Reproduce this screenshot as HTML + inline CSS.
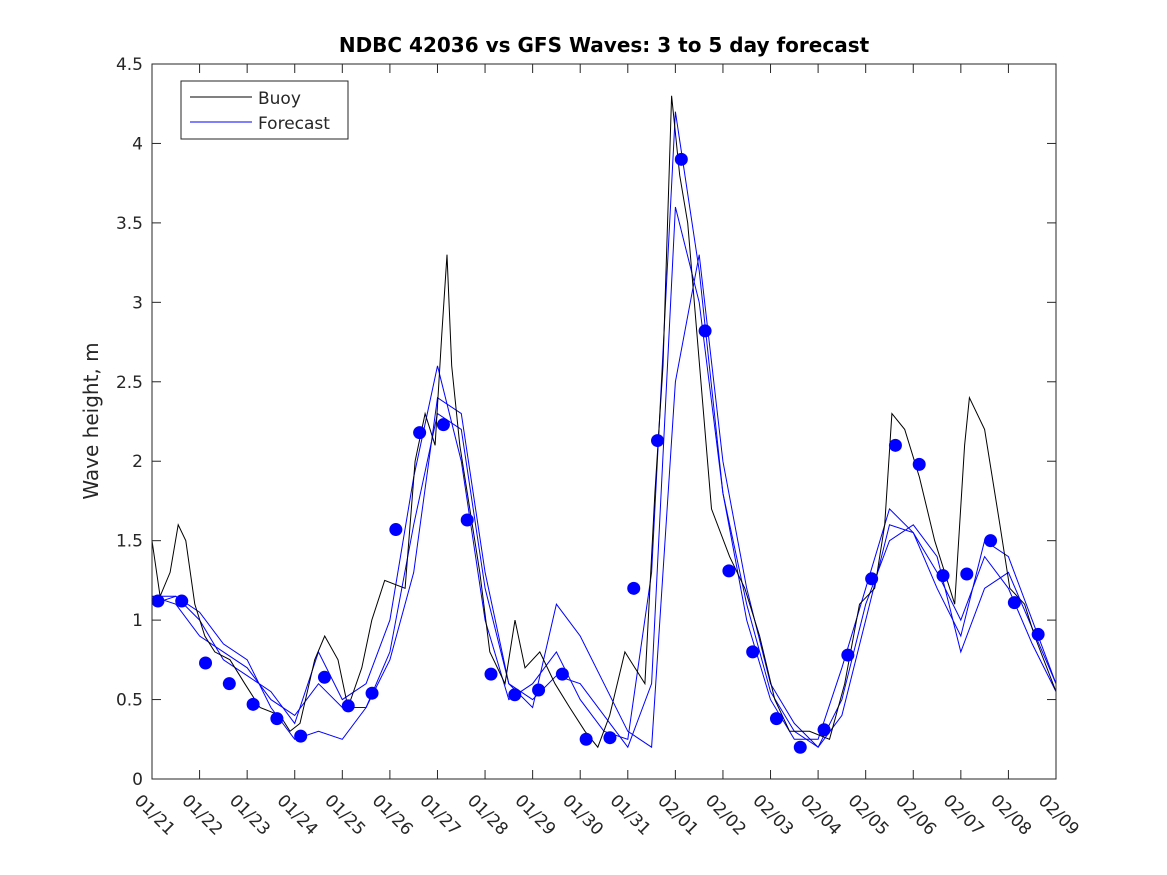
<!DOCTYPE html>
<html><head><meta charset="utf-8"><style>
html,body{margin:0;padding:0;background:#fff;}
svg{display:block;font-family:"DejaVu Sans","Liberation Sans",sans-serif;}
</style></head><body>
<svg id="chart" width="1167" height="875" viewBox="0 0 1167 875">
<rect x="0" y="0" width="1167" height="875" fill="#fff"/>
<text x="604" y="52" text-anchor="middle" font-size="20" font-weight="bold" fill="#000">NDBC 42036 vs GFS Waves: 3 to 5 day forecast</text>
<text transform="translate(98,421) rotate(-90)" text-anchor="middle" font-size="20" fill="#262626">Wave height, m</text>
<g id="grid"></g>
<g id="series"></g>
<rect x="152" y="64" width="904" height="715" fill="none" stroke="#262626" stroke-width="1"/>
<g>
<rect x="181" y="81" width="167" height="58" fill="#fff" stroke="#262626" stroke-width="1"/>
<line x1="190" y1="97" x2="252" y2="97" stroke="#000" stroke-width="1"/>
<text x="258" y="104" font-size="17" fill="#262626">Buoy</text>
<line x1="190" y1="122" x2="252" y2="122" stroke="#0000ff" stroke-width="1"/>
<text x="258" y="129" font-size="17" fill="#262626">Forecast</text>
</g>
</svg>
<script>
const xTickLabels=["01/21","01/22","01/23","01/24","01/25","01/26","01/27","01/28","01/29","01/30","01/31","02/01","02/02","02/03","02/04","02/05","02/06","02/07","02/08","02/09"];
const yTicks=[0,0.5,1,1.5,2,2.5,3,3.5,4,4.5];
const yTickLabels=["0","0.5","1","1.5","2","2.5","3","3.5","4","4.5"];
const buoyDays=[0,0.17,0.38,0.55,0.71,0.9,1.11,1.32,1.64,1.95,2.27,2.69,2.9,3.11,3.42,3.63,3.91,4.12,4.41,4.62,4.89,5.32,5.53,5.74,5.95,6.09,6.2,6.3,6.47,6.68,6.89,7.1,7.42,7.63,7.84,8.15,8.47,8.78,9.1,9.37,9.62,9.94,10.36,10.57,10.74,10.92,11.09,11.26,11.51,11.76,12.14,12.46,12.77,13.09,13.4,13.82,14.24,14.56,14.87,15.19,15.4,15.55,15.82,16.13,16.45,16.66,16.87,17.08,17.18,17.5,17.82,18.03,18.34,18.55,19];
const buoyVals=[1.5,1.15,1.3,1.6,1.5,1.1,0.9,0.8,0.75,0.6,0.45,0.4,0.3,0.35,0.75,0.9,0.75,0.45,0.7,1.0,1.25,1.2,2.0,2.3,2.1,2.8,3.3,2.6,2.1,1.7,1.3,0.8,0.6,1.0,0.7,0.8,0.6,0.45,0.3,0.2,0.4,0.8,0.6,1.8,2.6,4.3,3.8,3.5,2.6,1.7,1.4,1.2,0.9,0.5,0.3,0.3,0.25,0.6,1.1,1.2,1.6,2.3,2.2,1.9,1.5,1.3,1.1,2.1,2.4,2.2,1.6,1.2,1.1,0.9,0.55];
const runA=[1.15,1.15,1.0,0.75,0.65,0.55,0.35,0.8,0.5,0.6,1.0,1.9,2.6,2.0,1.0,0.5,0.6,0.8,0.5,0.3,0.25,1.3,4.2,3.2,1.8,1.0,0.5,0.25,0.25,0.7,1.2,1.7,1.55,1.3,1.0,1.4,1.2,0.85,0.55];
const runB=[1.15,1.1,0.9,0.8,0.7,0.5,0.4,0.6,0.45,0.45,0.8,1.6,2.3,2.2,1.2,0.6,0.5,0.65,0.6,0.4,0.2,0.6,3.6,3.0,1.8,1.1,0.55,0.3,0.2,0.5,1.1,1.5,1.6,1.4,0.8,1.2,1.3,0.95,0.6];
const runC=[1.1,1.15,1.05,0.85,0.75,0.45,0.25,0.3,0.25,0.45,0.75,1.3,2.4,2.3,1.3,0.6,0.45,1.1,0.9,0.6,0.3,0.2,2.5,3.3,2.0,1.2,0.6,0.35,0.2,0.4,1.0,1.6,1.55,1.2,0.9,1.5,1.4,1.0,0.6];
const markerVals=[1.12,1.12,0.73,0.60,0.47,0.38,0.27,0.64,0.46,0.54,1.57,2.18,2.23,1.63,0.66,0.53,0.56,0.66,0.25,0.26,1.20,2.13,3.90,2.82,1.31,0.80,0.38,0.20,0.31,0.78,1.26,2.10,1.98,1.28,1.29,1.50,1.11,0.91];

const X0=152,X1=1056,Y0=779,Y1=64,NDAYS=19,YMAX=4.5;
function xs(d){return X0+(X1-X0)*d/NDAYS;}
function ys(v){return Y0-(Y0-Y1)*v/YMAX;}
const NS="http://www.w3.org/2000/svg";
const grid=document.getElementById('grid');
const series=document.getElementById('series');
function mk(tag,attrs,parent){const e=document.createElementNS(NS,tag);for(const k in attrs)e.setAttribute(k,attrs[k]);parent.appendChild(e);return e;}

xTickLabels.forEach((lab,i)=>{
  const x=xs(i);
  const t=mk('line',{x1:x,y1:Y0,x2:x,y2:Y0-9,stroke:'#262626','stroke-width':1},grid);
  
  
  const t2=mk('line',{x1:x,y1:Y1,x2:x,y2:Y1+9,stroke:'#262626','stroke-width':1},grid);
  
  
  const tx=mk('text',{transform:`translate(${x-10},${Y0+14}) rotate(45)`,'font-size':17,fill:'#262626','dominant-baseline':'hanging'},grid);
  tx.textContent=lab;
  
  
});
yTicks.forEach((v,i)=>{
  const y=ys(v);
  const t=mk('line',{x1:X0,y1:y,x2:X0+9,y2:y,stroke:'#262626','stroke-width':1},grid);
  
  
  const t2=mk('line',{x1:X1,y1:y,x2:X1-9,y2:y,stroke:'#262626','stroke-width':1},grid);
  
  
  const tx=mk('text',{x:X0-9,y:y+6,'text-anchor':'end','font-size':17,fill:'#262626'},grid);
  tx.textContent=yTickLabels[i];
  
  
});

function runPts(arr){return arr.map((v,i)=>xs(i*0.5).toFixed(1)+','+ys(v).toFixed(1)).join(' ');}
[runA,runB,runC].forEach((arr,k)=>{
  const p=mk('polyline',{points:runPts(arr),fill:'none',stroke:'#0000ff','stroke-width':1},series);
  
  
});
const bp=mk('polyline',{points:buoyDays.map((d,i)=>xs(d).toFixed(1)+','+ys(buoyVals[i]).toFixed(1)).join(' '),fill:'none',stroke:'#000','stroke-width':1},series);


markerVals.forEach((v,i)=>{
  const c=mk('circle',{cx:xs(0.125+0.5*i),cy:ys(v),r:6.5,fill:'#0000ff'},series);
  
  
});
</script>
</body></html>
